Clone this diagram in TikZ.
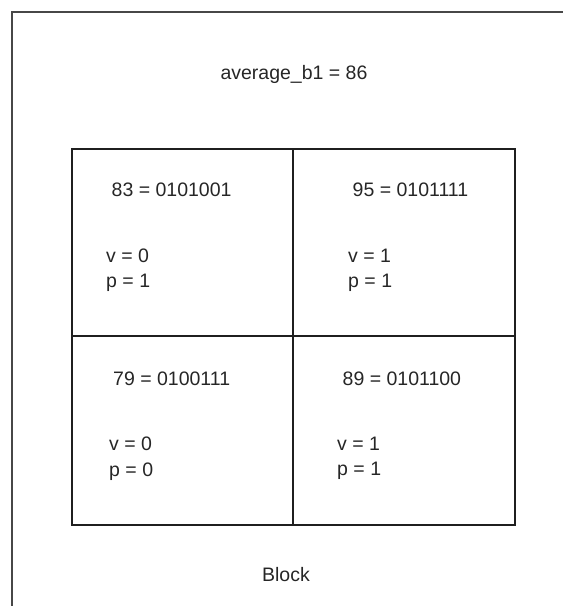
\documentclass[tikz,border=0pt]{standalone}
\usepackage{fontspec}
\setmainfont{Liberation Sans}
\begin{document}
\begin{tikzpicture}[x=1pt,y=-1pt,
  lbl/.style={inner sep=0pt,anchor=base west,font=\fontsize{19.5}{23}\selectfont,text=black!85},
  clbl/.style={inner sep=0pt,anchor=base,font=\fontsize{19.5}{23}\selectfont,text=black!85},
  outer/.style={draw=black!72,line width=1.6pt},
  grid/.style={draw=black!88,line width=1.4pt}]
\useasboundingbox (0,0) rectangle (563,606);
\path[outer] (12,620) -- (12,12) -- (580,12);
\draw[grid] (72,149) rectangle (515,525);
\draw[grid] (293,149) -- (293,525);
\draw[grid] (72,336) -- (515,336);
\node[clbl] (avg) at (294,79) {average\_b1 = 86};
\node[clbl] (blk) at (286,581) {Block};
\node[lbl] (a1) at (111.5,196.5) {83 = 0101001};
\node[lbl] (a2) at (106,262.5) {v = 0};
\node[lbl] (a3) at (106,287.5) {p = 1};
\node[lbl] (b1) at (352.5,196.5) {95 = 0101111};
\node[lbl] (b2) at (348,262.5) {v = 1};
\node[lbl] (b3) at (348,287.5) {p = 1};
\node[lbl] (c1) at (113,385.5) {79 = 0100111};
\node[lbl] (c2) at (109,450.5) {v = 0};
\node[lbl] (c3) at (109,476) {p = 0};
\node[lbl] (d1) at (342.5,385) {89 = 0101100};
\node[lbl] (d2) at (337,450) {v = 1};
\node[lbl] (d3) at (337,475.5) {p = 1};
\end{tikzpicture}
\end{document}
